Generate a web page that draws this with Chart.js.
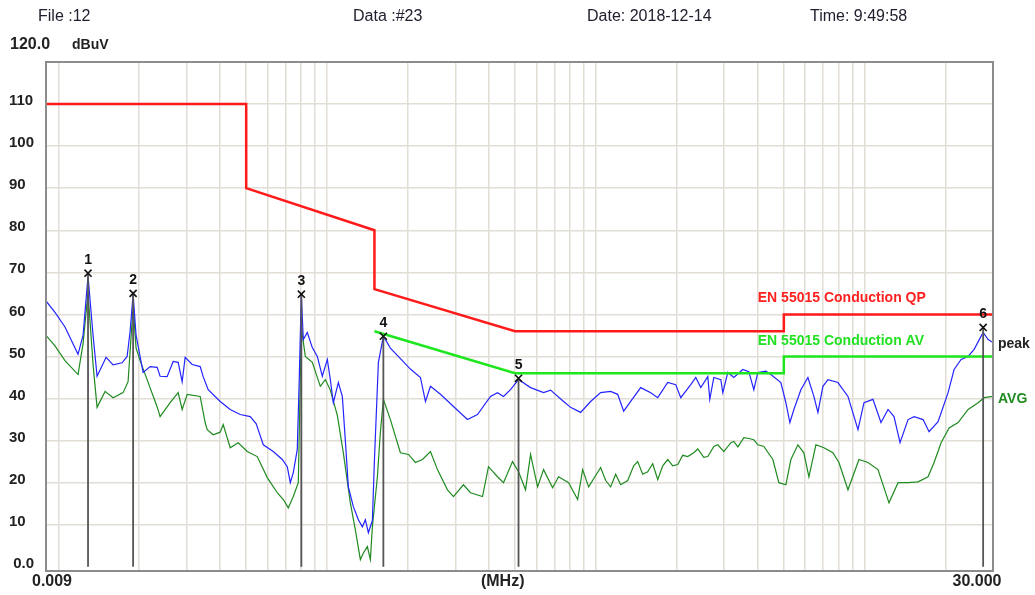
<!DOCTYPE html>
<html>
<head>
<meta charset="utf-8">
<script src="https://cdn.jsdelivr.net/npm/chart.js@4.4.0/dist/chart.umd.min.js"></script>
<style>
  html, body { margin: 0; padding: 0; background: #fff; }
</style>
</head>
<body>
<canvas id="emiChart" width="1035" height="595"></canvas>
<script>
// peak trace (MHz / dBuV)
const peakFreq = [0.009, 0.00972, 0.01059, 0.01184, 0.01236, 0.0129, 0.01347, 0.01394, 0.01506, 0.01599,
  0.01727, 0.01803, 0.0185, 0.01898, 0.01947, 0.02068, 0.02196, 0.02332, 0.02392, 0.0254,
  0.02675, 0.02792, 0.02889, 0.02964, 0.03148, 0.03371, 0.03459, 0.03611, 0.04002, 0.0436,
  0.04751, 0.05176, 0.05449, 0.05787, 0.06305, 0.06811, 0.07109, 0.07294, 0.07484, 0.07745,
  0.07879, 0.08016, 0.08154, 0.08439, 0.08809, 0.09195, 0.09597, 0.10018, 0.10279, 0.10547,
  0.11009, 0.11393, 0.1169, 0.11995, 0.1252, 0.13069, 0.13525, 0.13877, 0.14239, 0.14736,
  0.14991, 0.15514, 0.16194, 0.17196, 0.18736, 0.20414, 0.22243, 0.23217, 0.24234, 0.26403,
  0.29517, 0.3327, 0.3625, 0.4053, 0.4303, 0.4531, 0.4811, 0.5153, 0.5712, 0.6386,
  0.6782, 0.7581, 0.805, 0.8771, 0.9556, 1.0413, 1.1345, 1.2047, 1.2684, 1.3468,
  1.4675, 1.5989, 1.6978, 1.8498, 1.981, 2.068, 2.253, 2.352, 2.455, 2.607,
  2.652, 2.745, 2.915, 2.965, 3.095, 3.259, 3.52, 3.705, 3.867, 4.002,
  4.287, 4.475, 4.875, 5.089, 5.266, 5.45, 5.787, 6.145, 6.469, 6.696,
  6.989, 7.295, 7.949, 8.661, 9.437, 9.935, 10.73, 11.49, 12.21, 12.85,
  13.53, 14.49, 15.26, 16.48, 17.35, 18.74, 20.42, 21.5, 22.83, 24.24,
  25.52, 27.57, 28.78, 30];
const peakLevel = [63.2, 60.5, 57, 50.5, 55, 69.1, 55, 45.3, 49.8, 48,
  48.5, 50, 56, 64.8, 55, 46.2, 47.6, 47.4, 45.3, 45.2,
  48.8, 48.6, 44, 49.8, 48.1, 47.6, 45.2, 42.1, 39.3, 37.4,
  36.2, 35.7, 34, 29, 27.4, 25.5, 23.8, 20, 22.4, 27.9,
  45, 64.8, 54, 55.7, 52.1, 50, 45.3, 49.3, 44.5, 39,
  43.8, 40.5, 30, 19, 14.3, 11.2, 9.5, 11.2, 8.1, 11,
  25, 48.6, 54.8, 52, 49.5, 47, 45, 39.3, 42.9, 41,
  38.1, 35, 36.2, 40.5, 41.4, 40.5, 42.1, 44.5, 42.6, 41.4,
  42, 39.3, 37.9, 36.7, 39.3, 41.4, 41.7, 41, 37, 39.3,
  42.6, 41.4, 40.2, 43.8, 43.3, 40.2, 43.3, 45, 42.6, 45.2,
  39.8, 45, 44.5, 41.4, 46.2, 45, 46.9, 46.4, 42.1, 46.2,
  46.5, 45.7, 43.8, 39, 34.3, 37.4, 42.1, 45, 40.5, 36.7,
  42.9, 44.5, 43.8, 40.5, 32.6, 39, 39.8, 34.3, 37.4, 35.7,
  29.5, 35, 35.7, 35, 32.1, 34.5, 41.4, 46.9, 49.3, 50,
  51.7, 55.7, 54, 53.3];

// average trace
const avgFreq = [0.009, 0.00972, 0.01059, 0.01184, 0.01236, 0.0129, 0.01347, 0.01394, 0.01493, 0.01599,
  0.01742, 0.01818, 0.01898, 0.01947, 0.02015, 0.0214, 0.02332, 0.02392, 0.02607, 0.02792,
  0.02889, 0.03016, 0.03371, 0.03519, 0.0358, 0.03769, 0.04002, 0.04106, 0.0436, 0.0467,
  0.05045, 0.05496, 0.05989, 0.06525, 0.0687, 0.0717, 0.07484, 0.07813, 0.08016, 0.08296,
  0.08809, 0.09435, 0.09847, 0.10279, 0.10915, 0.11491, 0.12202, 0.12737, 0.13295, 0.13641,
  0.14117, 0.14486, 0.14736, 0.15382, 0.15783, 0.16194, 0.17196, 0.18736, 0.20067, 0.21309,
  0.22628, 0.24234, 0.25733, 0.28037, 0.29517, 0.32153, 0.34143, 0.3785, 0.3984, 0.4303,
  0.4531, 0.4894, 0.5153, 0.5473, 0.5712, 0.6067, 0.6386, 0.6899, 0.7264, 0.7913,
  0.8549, 0.8924, 0.9394, 1.0413, 1.0869, 1.1345, 1.1842, 1.2362, 1.3127, 1.382,
  1.4302, 1.4927, 1.5581, 1.6264, 1.6978, 1.7721, 1.8498, 1.9308, 2.0154, 2.1037,
  2.1958, 2.312, 2.3926, 2.5189, 2.607, 2.745, 2.841, 2.991, 3.176, 3.259,
  3.372, 3.551, 3.705, 3.867, 4.002, 4.214, 4.552, 4.792, 5.089, 5.312,
  5.64, 5.937, 6.198, 6.581, 7.049, 7.614, 8.017, 8.661, 9.518, 10.28,
  11.2, 12.31, 13.3, 14.49, 15.79, 17.2, 18.11, 19.23, 20.6, 22.25,
  24.24, 26.41, 27.81, 30];
const avgLevel = [55, 52.5, 49, 45.7, 53, 65.2, 48, 37.9, 41.7, 40.2,
  41.4, 44, 61.9, 52, 49, 44.5, 38, 35.7, 39, 41.4,
  37.4, 41, 40.5, 34.3, 32.6, 31.4, 32, 33.8, 28.3, 29.5,
  27.4, 26.2, 21.2, 17.6, 16, 14, 16.7, 20, 57.1, 50,
  48.6, 42.9, 44.5, 42, 36, 27.1, 15.2, 8.8, 1.7, 3.3,
  4.8, 1.7, 9.5, 21.4, 32, 39.8, 35, 27.1, 26.7, 24.8,
  25.5, 27.4, 23.1, 18.3, 16.7, 19.5, 17.6, 16.7, 23.8, 21.4,
  20, 25, 22.6, 18.3, 26.7, 19, 23.1, 18.8, 21.4, 20,
  16, 23.1, 19, 23.6, 20.5, 19, 22, 19.5, 20.5, 24,
  25, 22, 22.6, 24.5, 20.7, 24, 25.5, 24, 24.3, 26.5,
  26.2, 27.1, 28, 26, 26.2, 28.6, 29, 27.4, 29.5, 29.8,
  28.5, 30.7, 30.5, 30.2, 29, 28.6, 25.5, 20, 19.5, 25.5,
  29, 27.1, 21.4, 29, 28.3, 27.1, 24.8, 18.3, 25.5, 24.8,
  23.1, 15.2, 20, 20, 20.2, 21.4, 24.8, 29.5, 33, 34.3,
  37.4, 39, 40.2, 40.5];

// EN 55015 limits
const qpLimitFreq = [0.009, 0.05, 0.05, 0.15, 0.15, 0.5, 5, 5, 30];
const qpLimitLevel = [110, 110, 90, 80, 66, 56, 56, 60, 60];
const avLimitFreq = [0.15, 0.5, 5, 5, 30];
const avLimitLevel = [56, 46, 46, 50, 50];

// markers
const markerNames = ['1', '2', '3', '4', '5', '6'];
const markerFreq = [0.0129, 0.01898, 0.0802, 0.1619, 0.5153, 27.57];
const markerLevel = [69.8, 65, 64.8, 54.8, 44.8, 56.9];

// axis ticks
const xGridValues = [0.01, 0.02, 0.03, 0.04, 0.05, 0.06, 0.07, 0.08, 0.09,
  0.1, 0.2, 0.3, 0.4, 0.5, 0.6, 0.7, 0.8, 0.9,
  1, 2, 3, 4, 5, 6, 7, 8, 9, 10, 20, 30];
const yTickValues = [0, 10, 20, 30, 40, 50, 60, 70, 80, 90, 100, 110, 120];

const toPoints = (fs, vs) => fs.map((f, i) => ({ x: f, y: vs[i] }));

const datasets = [
  { label: 'peak', data: toPoints(peakFreq, peakLevel), borderColor: '#2424ff', borderWidth: 1.2, order: 3 },
  { label: 'AVG', data: toPoints(avgFreq, avgLevel), borderColor: '#1f8a1f', borderWidth: 1.2, order: 4 },
  { label: 'EN 55015 Conduction QP', data: toPoints(qpLimitFreq, qpLimitLevel), borderColor: '#ff1a1a', borderWidth: 2.5, order: 2 },
  { label: 'EN 55015 Conduction AV', data: toPoints(avLimitFreq, avLimitLevel), borderColor: '#1ee61e', borderWidth: 2.5, order: 2 }
];
// marker stems from the floor up to each marker
markerFreq.forEach((f, i) => {
  datasets.push({ label: 'm' + markerNames[i], data: [{ x: f, y: 0 }, { x: f, y: markerLevel[i] }],
    borderColor: '#555555', borderWidth: 1.8, order: 1 });
});
datasets.push({ label: 'markers', data: toPoints(markerFreq, markerLevel), showLine: false,
  pointStyle: 'crossRot', pointRadius: 5, borderColor: '#111', borderWidth: 1.6, order: 0 });

const textPlugin = {
  id: 'emiText',
  beforeDraw(chart) {
    const ctx = chart.ctx;
    ctx.save();
    ctx.fillStyle = '#fff';
    ctx.fillRect(0, 0, chart.width, chart.height);
    ctx.restore();
  },
  afterDraw(chart) {
    const ctx = chart.ctx;
    const a = chart.chartArea;
    const x = chart.scales.x, y = chart.scales.y;
    ctx.save();
    // plot frame
    ctx.strokeStyle = '#8c8c8c';
    ctx.lineWidth = 2;
    ctx.strokeRect(a.left, a.top, a.right - a.left, a.bottom - a.top);

    // header line
    ctx.fillStyle = '#202030';
    ctx.font = '16px "Liberation Sans", Arial, sans-serif';
    ctx.textBaseline = 'middle';
    ctx.textAlign = 'left';
    ctx.fillText('File :12', 38, 17);
    ctx.fillText('Data :#23', 353, 17);
    ctx.fillText('Date: 2018-12-14', 587, 17);
    ctx.fillText('Time: 9:49:58', 810, 17);

    // y unit
    ctx.fillStyle = '#222';
    ctx.font = 'bold 16px "Liberation Sans", Arial, sans-serif';
    ctx.fillText('120.0', 10, 45);
    ctx.font = 'bold 14px "Liberation Sans", Arial, sans-serif';
    ctx.fillText('dBuV', 72, 45);

    // x labels
    ctx.font = 'bold 16px "Liberation Sans", Arial, sans-serif';
    ctx.textAlign = 'center';
    ctx.fillText('0.009', x.getPixelForValue(0.009) + 6, 582);
    ctx.fillText('(MHz)', x.getPixelForValue(0.45), 582);
    ctx.fillText('30.000', x.getPixelForValue(30) - 16, 582);

    // limit labels
    ctx.textAlign = 'left';
    ctx.font = 'bold 14px "Liberation Sans", Arial, sans-serif';
    ctx.fillStyle = '#ff2020';
    ctx.fillText('EN 55015 Conduction QP', x.getPixelForValue(4.0), y.getPixelForValue(63.8));
    ctx.fillStyle = '#22e022';
    ctx.fillText('EN 55015 Conduction AV', x.getPixelForValue(4.0), y.getPixelForValue(53.7));

    // trace labels
    ctx.fillStyle = '#222';
    ctx.fillText('peak', a.right + 5, y.getPixelForValue(52.9));
    ctx.fillStyle = '#1f8a1f';
    ctx.fillText('AVG', a.right + 5, y.getPixelForValue(39.8));

    // marker numbers
    const meta = chart.getDatasetMeta(chart.data.datasets.length - 1);
    ctx.fillStyle = '#111';
    ctx.textAlign = 'center';
    ctx.font = 'bold 14px "Liberation Sans", Arial, sans-serif';
    meta.data.forEach((pt, i) => {
      ctx.fillText(markerNames[i], pt.x, pt.y - 13);
    });
    ctx.restore();
  }
};

new Chart(document.getElementById('emiChart').getContext('2d'), {
  type: 'line',
  data: { datasets: datasets },
  options: {
    responsive: false,
    animation: false,
    parsing: true,
    layout: { padding: { left: 9, right: 42, top: 62, bottom: 0 } },
    elements: {
      point: { radius: 0 },
      line: { tension: 0, fill: false }
    },
    plugins: {
      legend: { display: false },
      tooltip: { enabled: false }
    },
    scales: {
      x: {
        type: 'logarithmic',
        min: 0.009,
        max: 30,
        afterBuildTicks: (scale) => { scale.ticks = xGridValues.map(v => ({ value: v })); },
        afterFit: (scale) => { scale.height = 24; },
        ticks: { display: false },
        grid: { color: '#e2ded6', lineWidth: 1.5, drawTicks: false },
        border: { display: false }
      },
      y: {
        min: -1,
        max: 120,
        afterBuildTicks: (scale) => { scale.ticks = yTickValues.map(v => ({ value: v })); },
        afterFit: (scale) => { scale.width = 37; },
        ticks: {
          crossAlign: 'far',
          labelOffset: -3,
          color: '#222',
          font: { family: '"Liberation Sans", Arial, sans-serif', size: 15, weight: 'bold' },
          callback: (v) => v === 0 ? ' 0.0' : (v === 120 ? '' : v)
        },
        grid: {
          color: (c) => (c.tick && (c.tick.value === 0 || c.tick.value === 120)) ? 'rgba(0,0,0,0)' : '#e2ded6',
          lineWidth: 1.5,
          drawTicks: false
        },
        border: { display: false }
      }
    }
  },
  plugins: [textPlugin]
});
</script>
</body>
</html>
